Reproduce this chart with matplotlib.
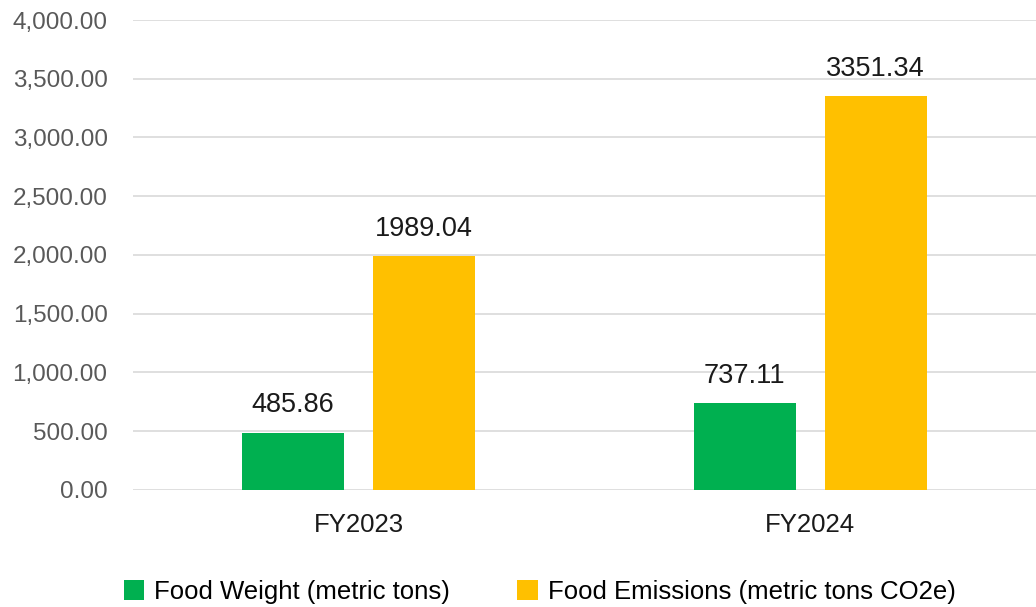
import numpy as np
import matplotlib
matplotlib.use("Agg")
from matplotlib import pyplot as plt
from matplotlib.ticker import FuncFormatter

categories = ["FY2023", "FY2024"]
food_weight = [485.86, 737.11]
food_emissions = [1989.04, 3351.34]
series_labels = ["Food Weight (metric tons)", "Food Emissions (metric tons CO2e)"]

GREEN = "#00b050"
YELLOW = "#ffc000"

plt.rcParams["font.family"] = ["Liberation Sans", "DejaVu Sans"]


def main():
    fig = plt.figure(figsize=(10.36, 6.07), dpi=100)
    ax = fig.add_axes([0.128, 0.193, 0.872, 0.774])

    x = np.arange(len(categories))
    width = 0.226
    offset = 0.145

    bars1 = ax.bar(x - offset, food_weight, width, color=GREEN, label=series_labels[0], zorder=3)
    bars2 = ax.bar(x + offset, food_emissions, width, color=YELLOW, label=series_labels[1], zorder=3)

    for bars, vals in [(bars1, food_weight), (bars2, food_emissions)]:
        for b, v in zip(bars, vals):
            ax.annotate(
                f"{v:.2f}",
                (b.get_x() + b.get_width() / 2, v),
                xytext=(0, 10.5),
                textcoords="offset points",
                ha="center",
                va="bottom",
                fontsize=19.5,
                color="#1a1a1a",
            )

    ax.set_xlim(-0.5, 1.5)
    ax.set_ylim(0, 4000)
    ax.set_yticks(np.arange(0, 4001, 500))
    ax.yaxis.set_major_formatter(FuncFormatter(lambda v, p: f"{v:,.2f}"))
    ax.set_xticks(x)
    ax.set_xticklabels(categories)

    ax.grid(axis="y", color="#d9d9d9", lw=1.2, zorder=0)
    for s in ax.spines.values():
        s.set_visible(False)
    ax.tick_params(axis="y", length=0, pad=18, labelsize=17.5, labelcolor="#595959")
    ax.tick_params(axis="x", length=0, pad=17, labelsize=18.5, labelcolor="#1a1a1a")

    fig.legend(
        loc="center",
        bbox_to_anchor=(0.521, 0.025),
        ncol=2,
        frameon=False,
        fontsize=18.5,
        handlelength=0.8,
        handleheight=0.8,
        handletextpad=0.4,
        columnspacing=2.6,
    )

    fig.savefig("out.png", dpi=100)


if __name__ == "__main__":
    main()
